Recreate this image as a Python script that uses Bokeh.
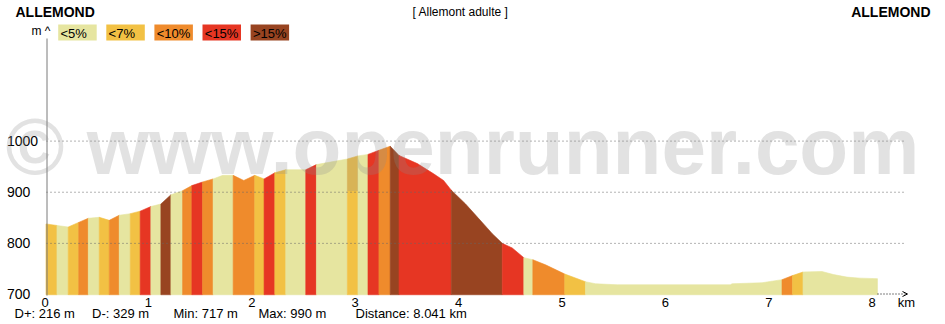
from bokeh.plotting import figure
from bokeh.models import Range1d, Label, Arrow, OpenHead
from bokeh.core.properties import value
from bokeh.embed import file_html
from bokeh.resources import INLINE

# ---------------- data ----------------
title_start = "ALLEMOND"
title_end = "ALLEMOND"
route_name = "[ Allemont adulte ]"

dist_km = [0.000, 0.106, 0.215, 0.316, 0.409, 0.515, 0.612, 0.708, 0.815, 0.911,
           1.014, 1.111, 1.208, 1.321, 1.411, 1.514, 1.616, 1.710, 1.810, 1.913,
           2.019, 2.109, 2.213, 2.319, 2.512, 2.615, 2.915, 3.017, 3.114, 3.220,
           3.329, 3.414, 3.591, 3.749, 3.845, 3.920, 4.058, 4.187, 4.316, 4.413,
           4.509, 4.621, 4.708, 4.831, 5.017, 5.217, 5.314, 5.524, 6.618, 6.635,
           6.925, 7.021, 7.118, 7.220, 7.321, 7.504, 7.616, 7.746, 7.874, 8.041]
elev_m = [838, 835, 832, 841, 849, 851, 845, 855, 858, 863,
          872, 877, 895, 903, 913, 920, 926, 933, 933, 923,
          933, 926, 938, 944, 944, 954, 965, 971, 974, 982,
          990, 972, 956, 936, 923, 904, 877, 848, 819, 800,
          791, 772, 768, 758, 740, 725, 721, 719, 719, 721,
          723, 726, 729, 737, 744, 745, 739, 734, 732, 731]
# slope class of each interval (0:<5%, 1:<7%, 2:<10%, 3:<15%, 4:>15%)
grade = [1, 0, 1, 2, 0, 1, 2, 0, 1, 3,
         0, 4, 0, 2, 3, 2, 0, 0, 2, 2,
         1, 3, 1, 0, 3, 0, 1, 0, 3, 2,
         4, 3, 3, 3, 3, 4, 4, 4, 4, 3,
         3, 0, 2, 2, 1, 0, 0, 0, 0, 0,
         0, 0, 2, 1, 0, 0, 0, 0, 0]

grade_labels = ["<5%", "<7%", "<10%", "<15%", ">15%"]
grade_colors = ["#e6e5a0", "#f2c144", "#ef8b2c", "#e63623", "#984421"]

x_ticks = [0, 1, 2, 3, 4, 5, 6, 7, 8]
y_ticks = [700, 800, 900, 1000]
grid_levels = [800, 900, 1000]
stats = ["D+: 216 m", "D-: 329 m", "Min: 717 m", "Max: 990 m", "Distance: 8.041 km"]

# ---------------- geometry (pixel -> data) ----------------
W, H = 945, 324
X0PX, PXKM = 45.5, 103.4
Y700PX, PXM = 294.0, 153.4 / 300.0


def kx(px):
    return (px - X0PX) / PXKM


def my(py):
    return 700 + (Y700PX - py) / PXM


FONT = "Liberation Sans"

p = figure(width=W, height=H,
           x_range=Range1d(kx(0), kx(W)), y_range=Range1d(my(H), my(0)),
           output_backend="svg", toolbar_location=None,
           x_axis_location=None, y_axis_location=None,
           min_border=0, outline_line_color=None,
           background_fill_color="white", border_fill_color="white")
p.grid.visible = False

# ---------------- profile fill, grouped by slope class ----------------
base = 699.5
xs_list, ys_list, cols = [], [], []
n = len(grade)
i = 0
while i < n:
    j = i
    while j + 1 < n and grade[j + 1] == grade[i]:
        j += 1
    px = dist_km[i:j + 2]
    py = elev_m[i:j + 2]
    xs_list.append([px[0]] + px + [px[-1]])
    ys_list.append([base] + py + [base])
    cols.append(grade_colors[grade[i]])
    i = j + 1
p.patches(xs_list, ys_list, fill_color=cols, line_color=cols, line_width=0.6)

# ---------------- grid lines ----------------
p.segment(x0=[kx(46)] * len(grid_levels), x1=[kx(903)] * len(grid_levels),
          y0=grid_levels, y1=grid_levels, line_color="#666666",
          line_width=1, line_dash="1 3")

# ---------------- y axis line ----------------
p.segment(x0=[kx(46.5)], x1=[kx(46.5)], y0=[my(38)], y1=[my(295)],
          line_color="#7a7a7a", line_width=1)

# ---------------- x arrow + km ----------------
p.add_layout(Arrow(x_start=kx(877), y_start=my(293.5), x_end=kx(907), y_end=my(293.5),
                   line_color="black", line_width=1, line_dash="1 2",
                   end=OpenHead(size=5, line_color="black", line_width=1)))

# ---------------- tick labels ----------------
p.text(x=x_ticks, y=[my(301.5)] * len(x_ticks), text=[str(t) for t in x_ticks],
       text_align="center", text_baseline="middle", text_color="black",
       text_font=value(FONT), text_font_size="13px", x_offset=-1)
p.text(x=[kx(6.5)] * len(y_ticks), y=y_ticks, text=[str(t) for t in y_ticks],
       text_align="left", text_baseline="alphabetic", text_color="black",
       text_font=value(FONT), text_font_size="14px", y_offset=-0.5)

p.add_layout(Label(x=kx(906), y=my(301.5), text="km", text_align="center",
                   text_baseline="middle", text_font=FONT, text_font_size="13px",
                   text_color="black"))
p.add_layout(Label(x=kx(31), y=my(30), text="m ^", text_align="left",
                   text_baseline="middle", text_font=FONT, text_font_size="12px",
                   text_color="black"))

# ---------------- stats ----------------
stat_px = [14, 91.5, 173, 258, 355]
p.text(x=[kx(v) for v in stat_px], y=[my(313)] * len(stats), text=stats,
       text_align="left", text_baseline="middle", text_color="black",
       text_font=value(FONT), text_font_size="13px")

# ---------------- header ----------------
p.add_layout(Label(x=kx(15), y=my(11), text=title_start, text_align="left",
                   text_baseline="middle", text_font=FONT, text_font_size="14px",
                   text_font_style="bold", text_color="black"))
p.add_layout(Label(x=kx(930), y=my(11), text=title_end, text_align="right",
                   text_baseline="middle", text_font=FONT, text_font_size="14px",
                   text_font_style="bold", text_color="black"))
p.add_layout(Label(x=kx(460), y=my(11), text=route_name, text_align="center",
                   text_baseline="middle", text_font=FONT, text_font_size="12px",
                   text_color="black"))

# ---------------- legend ----------------
box_left = [kx(57.7 + 48.1 * k) for k in range(len(grade_labels))]
box_right = [kx(57.7 + 48.1 * k + 38.5) for k in range(len(grade_labels))]
p.quad(left=box_left, right=box_right, bottom=[my(40)] * 5, top=[my(24)] * 5,
       fill_color=grade_colors, line_color=None)
p.text(x=[b + kx(60) - kx(57.7) for b in box_left], y=[my(32.5)] * 5, text=grade_labels,
       text_align="left", text_baseline="middle", text_color="black",
       text_font=value(FONT), text_font_size="13px")

# ---------------- watermark ----------------
p.add_layout(Label(x=kx(5), y=my(146), text="\u00a9 www.openrunner.com",
                   text_align="left", text_baseline="middle", text_font=FONT,
                   text_font_size="80px", text_font_style="bold",
                   text_color="#8c8c8c", text_alpha=0.25))

open("out.html", "w").write(file_html(p, INLINE))
